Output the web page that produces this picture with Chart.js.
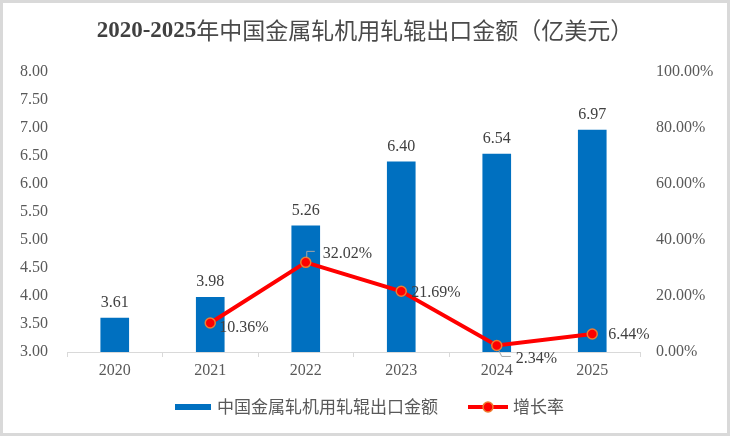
<!DOCTYPE html>
<html>
<head>
<meta charset="utf-8">
<script src="https://cdn.jsdelivr.net/npm/chart.js@4"></script>
<style>
  html, body { margin: 0; padding: 0; background: #fff; }
  #wrap { width: 730px; height: 436px; }
</style>
</head>
<body>
<div id="wrap"><canvas id="c" width="730" height="436"></canvas></div>
<script>
// ── Data ──
const years = ["2020", "2021", "2022", "2023", "2024", "2025"];
const exportValue = [3.61, 3.98, 5.26, 6.40, 6.54, 6.97];      // 亿美元
const growthRate = [null, 10.36, 32.02, 21.69, 2.34, 6.44];    // %
const leftTicks = [3, 8, 0.5];     // min, max, step
const rightTicks = [0, 100, 20];

const TITLE_NUM = "2020-2025";
const TITLE_TEXT = "年中国金属轧机用轧辊出口金额（亿美元）";
const BAR_LABEL = "中国金属轧机用轧辊出口金额";
const LINE_LABEL = "增长率";

const SERIF = "'Liberation Serif', 'Times New Roman', 'Noto Sans CJK SC', serif";
const CJK = "'Noto Sans CJK SC', 'Liberation Serif', sans-serif";
const BLUE = "#0070C0";
const RED = "#FF0000";
const ORANGE = "#ED7D31";

// label placement for the growth-rate points: [dx, dy, leader]
const rateLabelPos = [null, [9, 5, 0], [17, -9, 1], [10, 2, 0], [19, 13, 2], [16, 1, 0]];

// ── Custom drawing: frame, title, data labels, legend ──
const decorPlugin = {
  id: "decor",
  beforeDraw(chart) {
    const ctx = chart.ctx;
    ctx.save();
    ctx.fillStyle = "#fff";
    ctx.fillRect(0, 0, chart.width, chart.height);
    ctx.restore();
  },
  afterDraw(chart) {
    const ctx = chart.ctx;
    ctx.save();

    // frame
    ctx.strokeStyle = "#d9d9d9";
    ctx.lineWidth = 3;
    ctx.strokeRect(1.5, 1.5, chart.width - 3, chart.height - 3);

    // title (bold digits, regular CJK)
    const fNum = "bold 23px " + SERIF;
    const fTxt = "23px " + CJK;
    ctx.font = fNum;
    const w1 = ctx.measureText(TITLE_NUM).width;
    ctx.font = fTxt;
    const w2 = ctx.measureText(TITLE_TEXT).width;
    let x = (chart.width - w1 - w2) / 2;
    ctx.fillStyle = "#404040";
    ctx.textBaseline = "middle";
    ctx.textAlign = "left";
    ctx.font = fNum;
    ctx.fillText(TITLE_NUM, x, 31);
    ctx.font = fTxt;
    ctx.fillStyle = "#4a4a4a";
    ctx.fillText(TITLE_TEXT, x + w1, 30);

    // bar value labels
    const barMeta = chart.getDatasetMeta(0);
    ctx.font = "16px " + SERIF;
    ctx.fillStyle = "#404040";
    ctx.textAlign = "center";
    ctx.textBaseline = "bottom";
    barMeta.data.forEach((bar, i) => {
      ctx.fillText(exportValue[i].toFixed(2), bar.x, bar.y - 7);
    });

    // growth-rate labels
    const lineMeta = chart.getDatasetMeta(1);
    ctx.textAlign = "left";
    ctx.textBaseline = "middle";
    lineMeta.data.forEach((pt, i) => {
      const v = growthRate[i];
      if (v === null || v === undefined) return;
      const [dx, dy, leader] = rateLabelPos[i];
      const lx = pt.x + dx, ly = pt.y + dy;
      if (leader) {
        ctx.strokeStyle = "#a6a6a6";
        ctx.lineWidth = 1;
        ctx.beginPath();
        if (leader === 1) {
          ctx.moveTo(pt.x + 1, pt.y - 5);
          ctx.lineTo(pt.x + 1, pt.y - 11);
          ctx.lineTo(pt.x + 9, pt.y - 11);
        } else {
          ctx.moveTo(pt.x + 2, pt.y + 5);
          ctx.lineTo(pt.x + 5, pt.y + 11);
          ctx.lineTo(pt.x + 14, pt.y + 11);
        }
        ctx.stroke();
      }
      ctx.fillStyle = "#404040";
      ctx.fillText(v.toFixed(2) + "%", lx, ly);
    });

    // legend
    const ly = 407;
    ctx.fillStyle = BLUE;
    ctx.fillRect(175, ly - 3, 36, 6);
    ctx.font = "17px " + CJK;
    ctx.fillStyle = "#595959";
    ctx.textAlign = "left";
    ctx.fillText(BAR_LABEL, 217, ly);

    ctx.strokeStyle = RED;
    ctx.lineWidth = 4;
    ctx.beginPath();
    ctx.moveTo(468, ly);
    ctx.lineTo(508, ly);
    ctx.stroke();
    ctx.beginPath();
    ctx.arc(488, ly, 5, 0, Math.PI * 2);
    ctx.fillStyle = RED;
    ctx.fill();
    ctx.strokeStyle = ORANGE;
    ctx.lineWidth = 1.5;
    ctx.stroke();
    ctx.fillStyle = "#595959";
    ctx.fillText(LINE_LABEL, 513, ly);

    ctx.restore();
  }
};

new Chart(document.getElementById("c"), {
  type: "bar",
  data: {
    labels: years,
    datasets: [
      {
        type: "bar",
        label: BAR_LABEL,
        data: exportValue,
        backgroundColor: BLUE,
        yAxisID: "y",
        categoryPercentage: 1,
        barPercentage: 0.3,
        order: 2,
      },
      {
        type: "line",
        label: LINE_LABEL,
        data: growthRate,
        borderColor: RED,
        borderWidth: 4,
        pointRadius: 5,
        pointBackgroundColor: RED,
        pointBorderColor: ORANGE,
        pointBorderWidth: 1.5,
        tension: 0,
        yAxisID: "y1",
        order: 1,
      },
    ],
  },
  options: {
    responsive: false,
    animation: false,
    layout: { padding: { top: 72, bottom: 0, left: 0, right: 0 } },
    plugins: {
      legend: { display: false },
      title: { display: false },
      tooltip: { enabled: false },
    },
    scales: {
      x: {
        grid: { display: true, drawOnChartArea: false, tickLength: 5, color: "#d9d9d9", offset: true },
        border: { display: true, color: "#d9d9d9", width: 1 },
        ticks: { color: "#595959", font: { family: SERIF, size: 16 }, padding: 4 },
        afterFit(s) { s.height = 84; },
      },
      y: {
        position: "left",
        min: leftTicks[0],
        max: leftTicks[1],
        grid: { display: false },
        border: { display: false },
        ticks: {
          stepSize: leftTicks[2],
          color: "#595959",
          font: { family: SERIF, size: 16 },
          padding: 11,
          callback: v => v.toFixed(2),
        },
        afterFit(s) { s.width = 67; },
      },
      y1: {
        position: "right",
        min: rightTicks[0],
        max: rightTicks[1],
        grid: { display: false },
        border: { display: false },
        ticks: {
          stepSize: rightTicks[2],
          color: "#595959",
          font: { family: SERIF, size: 16 },
          padding: 8,
          callback: v => v.toFixed(2) + "%",
        },
        afterFit(s) { s.width = 90; },
      },
    },
  },
  plugins: [decorPlugin],
});
</script>
</body>
</html>
